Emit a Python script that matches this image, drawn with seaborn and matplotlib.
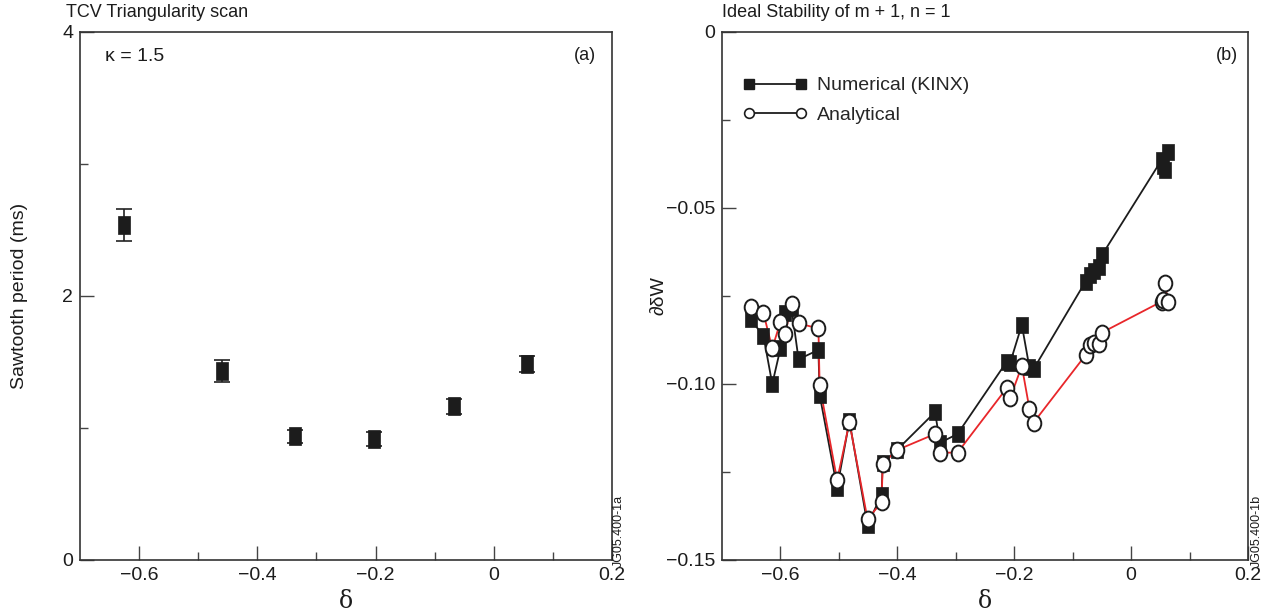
import numpy as np
import pandas as pd
import matplotlib
matplotlib.use("Agg")
import matplotlib.pyplot as plt
import seaborn as sns
from matplotlib.path import Path
from matplotlib.transforms import Affine2D
from matplotlib.lines import Line2D

# ---------------- data ----------------
# (a) TCV triangularity scan
delta_a = [-0.625, -0.46, -0.336, -0.203, -0.068, 0.056]
period_ms = [2.54, 1.43, 0.937, 0.917, 1.163, 1.485]
period_err = [0.12, 0.083, 0.048, 0.055, 0.057, 0.062]

# (b) ideal stability of m=1, n=1
delta_b = [-0.651, -0.629, -0.614, -0.600, -0.592, -0.581, -0.569, -0.535,
           -0.533, -0.503, -0.482, -0.451, -0.427, -0.425, -0.401, -0.3355,
           -0.327, -0.297, -0.213, -0.207, -0.187, -0.174, -0.167, -0.078,
           -0.071, -0.063, -0.055, -0.050, 0.052, 0.055, 0.058, 0.063]
dW_numerical = [-0.0816, -0.0864, -0.1000, -0.0899, -0.0799, -0.0785, -0.0930, -0.0903,
                -0.1030, -0.1295, -0.1105, -0.1400, -0.1315, -0.1225, -0.1188, -0.1080,
                -0.1167, -0.1142, -0.0937, -0.0940, -0.0832, -0.0953, -0.0958, -0.0709,
                -0.0690, -0.0680, -0.0667, -0.0634, -0.0364, -0.0380, -0.0392, -0.0340]
dW_analytical = [-0.0780, -0.0799, -0.0899, -0.0823, -0.0858, -0.0774, -0.0828, -0.0842,
                 -0.1003, -0.1273, -0.1109, -0.1384, -0.1336, -0.1227, -0.1188, -0.1142,
                 -0.1195, -0.1195, -0.1012, -0.1040, -0.0949, -0.1070, -0.1110, -0.0918,
                 -0.0889, -0.0883, -0.0886, -0.0854, -0.0766, -0.0760, -0.0714, -0.0766]

xticks = [-0.6, -0.4, -0.2, 0.0, 0.2]
xticklabels = ["\u22120.6", "\u22120.4", "\u22120.2", "0", "0.2"]
xminor = [-0.5, -0.3, -0.1, 0.1]
yticks_a = [0, 2, 4]
yticklabels_a = ["0", "2", "4"]
yminor_a = [1, 3]
yticks_b = [-0.15, -0.10, -0.05, 0.0]
yticklabels_b = ["\u22120.15", "\u22120.10", "\u22120.05", "0"]
yminor_b = [-0.125, -0.075, -0.025]

df_a = pd.DataFrame({"delta": delta_a, "period": period_ms, "err": period_err})
df_b = pd.DataFrame({"delta": delta_b, "num": dW_numerical, "ana": dW_analytical})

# ---------------- style ----------------
sns.set_theme(style="ticks")
plt.rcParams["font.family"] = ["Liberation Sans", "DejaVu Sans"]
plt.rcParams["axes.edgecolor"] = "#333333"
plt.rcParams["axes.linewidth"] = 1.2

rect_marker = Path([(-0.38, -0.5), (0.38, -0.5), (0.38, 0.5), (-0.38, 0.5), (-0.38, -0.5)],
                   [Path.MOVETO, Path.LINETO, Path.LINETO, Path.LINETO, Path.CLOSEPOLY])
ell_marker = Path.unit_circle().transformed(Affine2D().scale(0.86, 1.0))

fig = plt.figure(figsize=(12.81, 6.14), dpi=100)
axA = fig.add_axes([80 / 1281, 54 / 614, 532 / 1281, 528 / 614])
axB = fig.add_axes([722 / 1281, 54 / 614, 526 / 1281, 528 / 614])

# ---- panel (a) ----
axA.errorbar(df_a["delta"], df_a["period"], yerr=df_a["err"], fmt="none",
             ecolor="#222222", elinewidth=1.2, capsize=5.5, capthick=1.2, zorder=2)
sns.scatterplot(data=df_a, x="delta", y="period", ax=axA, marker=rect_marker,
                s=150, color="#1c1c1c", edgecolor="#1c1c1c", linewidth=0.5, zorder=3,
                legend=False)
axA.set_xlim(-0.7, 0.2)
axA.set_ylim(0, 4)
axA.set_yticks(yticks_a)
axA.set_yticklabels(yticklabels_a)
axA.set_yticks(yminor_a, minor=True)

# ---- panel (b) ----
sns.lineplot(data=df_b, x="delta", y="num", ax=axB, sort=False, estimator=None,
             color="#1c1c1c", linewidth=1.3, zorder=1, legend=False)
sns.lineplot(data=df_b, x="delta", y="ana", ax=axB, sort=False, estimator=None,
             color="#e8262a", linewidth=1.3, zorder=2, legend=False)
sns.scatterplot(data=df_b, x="delta", y="num", ax=axB, marker=rect_marker, s=135,
                color="#1c1c1c", edgecolor="#1c1c1c", linewidth=0.5, zorder=3, legend=False)
sns.scatterplot(data=df_b, x="delta", y="ana", ax=axB, marker=ell_marker, s=130,
                color="white", edgecolor="#1c1c1c", linewidth=1.4, zorder=4, legend=False)
axB.set_xlim(-0.7, 0.2)
axB.set_ylim(-0.15, 0.0)
axB.set_yticks(yticks_b)
axB.set_yticklabels(yticklabels_b)
axB.set_yticks(yminor_b, minor=True)

handles = [
    Line2D([0], [0], color="#1c1c1c", lw=1.3, marker="s", markersize=7.5,
           markerfacecolor="#1c1c1c", markeredgecolor="#1c1c1c"),
    Line2D([0], [0], color="#1c1c1c", lw=1.3, marker="o", markersize=7,
           markerfacecolor="white", markeredgecolor="#1c1c1c", markeredgewidth=1.2),
]
axB.legend(handles, ["Numerical (KINX)", "Analytical"], loc="upper left",
           bbox_to_anchor=(0.025, 0.93), frameon=False, numpoints=2,
           handlelength=3.3, handletextpad=0.5, labelspacing=0.6, fontsize=14,
           borderaxespad=0.0)

for ax in (axA, axB):
    ax.set_xticks(xticks)
    ax.set_xticklabels(xticklabels)
    ax.set_xticks(xminor, minor=True)
    ax.tick_params(which="major", direction="in", length=10, width=1.0, color="#444444",
                   labelsize=14, pad=5, top=False, right=False, labelcolor="#1c1c1c")
    ax.tick_params(which="minor", direction="in", length=6, width=1.0, color="#444444",
                   top=False, right=False)
    for sp in ax.spines.values():
        sp.set_visible(True)
        sp.set_color("#333333")
        sp.set_linewidth(1.2)
    ax.set_xlabel("\u03b4", fontsize=17, family=["DejaVu Serif"], labelpad=4, color="#1c1c1c")

axA.set_ylabel("Sawtooth period (ms)", fontsize=14, color="#1c1c1c")
axA.yaxis.set_label_coords(-0.098, 0.5)
axB.set_ylabel("\u2202\u03b4W", fontsize=14, color="#1c1c1c")
axB.yaxis.set_label_coords(-0.103, 0.5)

axA.text(-0.026, 1.02, "TCV Triangularity scan", transform=axA.transAxes,
         ha="left", va="bottom", fontsize=13, color="#1c1c1c")
axB.text(0.0, 1.02, "Ideal Stability of m + 1, n = 1", transform=axB.transAxes,
         ha="left", va="bottom", fontsize=13, color="#1c1c1c")
axA.text(0.047, 0.953, "\u03ba = 1.5", transform=axA.transAxes, ha="left", va="center",
         fontsize=14, color="#1c1c1c")
axA.text(0.95, 0.955, "(a)", transform=axA.transAxes, ha="center", va="center",
         fontsize=13, color="#1c1c1c")
axB.text(0.96, 0.955, "(b)", transform=axB.transAxes, ha="center", va="center",
         fontsize=13, color="#1c1c1c")

fig.text(619 / 1281, 1 - 567 / 614, "JG05.400-1a", rotation=90, ha="center", va="bottom",
         fontsize=9, color="#1c1c1c")
fig.text(1257 / 1281, 1 - 567 / 614, "JG05.400-1b", rotation=90, ha="center", va="bottom",
         fontsize=9, color="#1c1c1c")

fig.savefig("out.png", dpi=100, facecolor="white")
